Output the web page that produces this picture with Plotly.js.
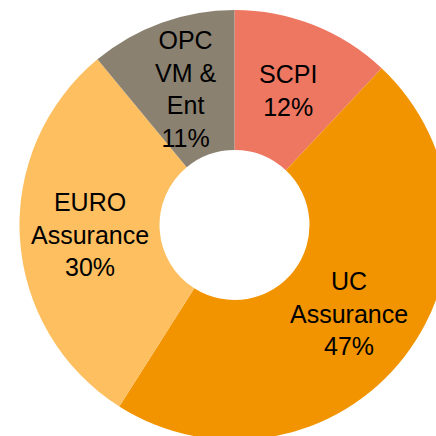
<!DOCTYPE html>
<html>
<head>
<meta charset="utf-8">
<script src="https://cdn.plot.ly/plotly-3.0.1.min.js"></script>
<style>
html, body { margin: 0; padding: 0; overflow: hidden; background: #fff; width: 436px; height: 436px; }
#chart { width: 460px; height: 460px; }
</style>
</head>
<body>
<div id="chart"></div>
<script>
// Data
const categories = ["SCPI", "UC Assurance", "EURO Assurance", "OPC VM & Ent"];
const labelLines = ["SCPI", "UC<br>Assurance", "EURO<br>Assurance", "OPC<br>VM &amp;<br>Ent"];
const values = [12, 47, 30, 11];
const colors = ["#EE7762", "#F29400", "#FDBF5F", "#8A8171"];

// Layout constants
const W = 460, H = 460;
const cx = 234.5, cy = 225, R = 215;
const holeFrac = 75 / 215;

const total = values.reduce((a, b) => a + b, 0);
const annotations = [];
let cum = 0;
values.forEach((v, i) => {
  const mid = (cum + v / 2) / total * 2 * Math.PI;
  cum += v;
  const rl = R * (1 + holeFrac) / 2;
  const px = cx + rl * Math.sin(mid);
  const py = cy - rl * Math.cos(mid);
  annotations.push({
    x: px / W, y: 1 - py / H, xref: "paper", yref: "paper",
    text: labelLines[i] + "<br>" + Math.round(v / total * 100) + "%",
    showarrow: false,
    xanchor: "center", yanchor: "middle",
    font: { family: "Liberation Sans, Arial, sans-serif", size: 25, color: "#000" },
    align: "center"
  });
});

const trace = {
  type: "pie",
  labels: categories,
  values: values,
  sort: false,
  direction: "clockwise",
  rotation: 0,
  hole: holeFrac,
  textinfo: "none",
  hoverinfo: "none",
  marker: { colors: colors, line: { width: 0 } },
  domain: { x: [(cx - R) / W, (cx + R) / W], y: [1 - (cy + R) / H, 1 - (cy - R) / H] },
  showlegend: false
};

Plotly.newPlot("chart", [trace], {
  width: W, height: H,
  margin: { l: 0, r: 0, t: 0, b: 0, pad: 0 },
  paper_bgcolor: "#fff",
  plot_bgcolor: "#fff",
  showlegend: false,
  annotations: annotations
}, { staticPlot: true, displayModeBar: false });
</script>
</body>
</html>
